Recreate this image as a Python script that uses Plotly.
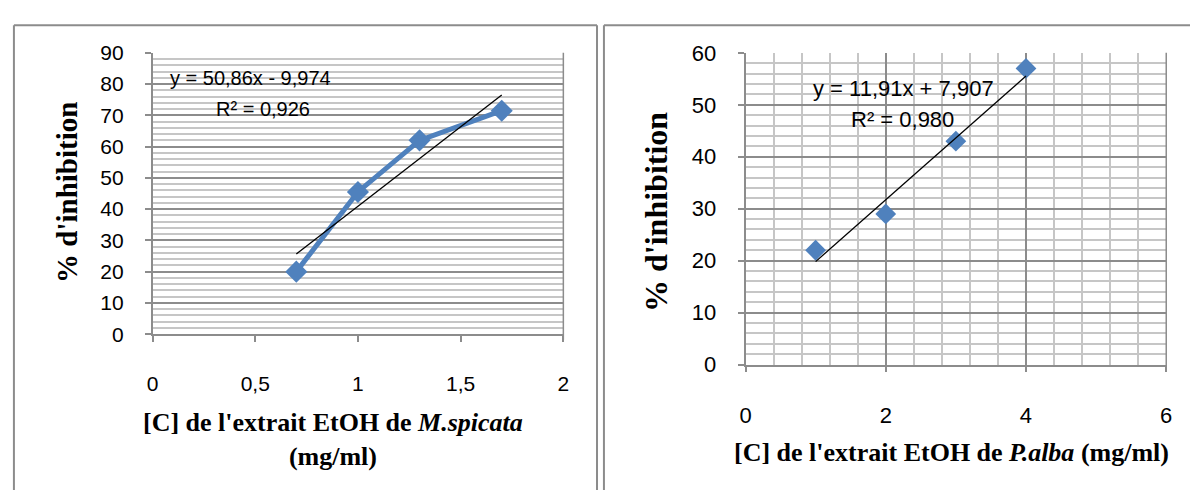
import plotly.graph_objects as go

# ---- data ----
ms_conc = [0.7, 1.0, 1.3, 1.7]
ms_inhib = [20.0, 45.5, 62.0, 71.5]
ms_slope, ms_intercept = 50.86, -9.974
ms_eq = "y = 50,86x - 9,974"
ms_r2 = "R² = 0,926"

pa_conc = [1, 2, 3, 4]
pa_inhib = [22.0, 29.0, 43.0, 57.0]
pa_slope, pa_intercept = 11.91, 7.907
pa_eq = "y = 11,91x + 7,907"
pa_r2 = "R² = 0,980"

left_xticks = [0, 0.5, 1, 1.5, 2]
left_xticklabels = ["0", "0,5", "1", "1,5", "2"]

W, H = 1196, 503
BLUE = "#4F81BD"
MAJOR = "#8C8C8C"
MINOR = "#C6C6C6"
SANS = "Liberation Sans, Arial, sans-serif"
SERIF = "Liberation Serif, Times New Roman, serif"


def px(x):
    return x / W


def py(y):
    return 1 - y / H


fig = go.Figure()

# Left chart
fig.add_trace(go.Scatter(
    x=ms_conc, y=ms_inhib, mode="lines+markers",
    line=dict(color=BLUE, width=5),
    marker=dict(symbol="diamond", size=17, color=BLUE),
    xaxis="x", yaxis="y", showlegend=False))
ms_tx = [min(ms_conc), max(ms_conc)]
fig.add_trace(go.Scatter(
    x=ms_tx, y=[ms_slope * v + ms_intercept for v in ms_tx], mode="lines",
    line=dict(color="#000000", width=1.3), xaxis="x", yaxis="y", showlegend=False))

# Right chart
pa_tx = [min(pa_conc), max(pa_conc)]
fig.add_trace(go.Scatter(
    x=pa_conc, y=pa_inhib, mode="markers",
    marker=dict(symbol="diamond", size=16, color=BLUE),
    xaxis="x2", yaxis="y2", showlegend=False))
fig.add_trace(go.Scatter(
    x=pa_tx, y=[pa_slope * v + pa_intercept for v in pa_tx], mode="lines",
    line=dict(color="#000000", width=1.3), xaxis="x2", yaxis="y2", showlegend=False))


def axis_common(size):
    return dict(
        showline=True, linecolor=MAJOR, linewidth=1.5, zeroline=False,
        ticks="outside", ticklen=6, tickcolor=MAJOR, tickwidth=1.5,
        tickfont=dict(family=SANS, size=size, color="#000000"), fixedrange=True)


fig.update_layout(
    width=W, height=H,
    margin=dict(l=0, r=0, t=0, b=0),
    paper_bgcolor="white", plot_bgcolor="white",
    xaxis=dict(domain=[px(148), px(563)], range=[0, 2], anchor="y",
               tickvals=left_xticks, ticktext=left_xticklabels,
               showgrid=False, ticklabelstandoff=24, **axis_common(21)),
    yaxis=dict(domain=[py(339), py(43)], range=[0, 90], anchor="x",
               dtick=10, showgrid=True, gridcolor=MAJOR, gridwidth=1.5,
               minor=dict(dtick=2, showgrid=True, gridcolor=MINOR, gridwidth=1.5),
               ticklabelstandoff=17, **axis_common(21)),
    xaxis2=dict(domain=[px(747), px(1172)], range=[0, 6], anchor="y2",
                dtick=2, showgrid=True, gridcolor=MAJOR, gridwidth=1.5,
                minor=dict(dtick=0.4, showgrid=True, gridcolor=MINOR, gridwidth=1.5),
                ticklabelstandoff=24, **axis_common(22)),
    yaxis2=dict(domain=[py(371), py(43)], range=[0, 60], anchor="x2",
                dtick=10, showgrid=True, gridcolor=MAJOR, gridwidth=1.5,
                minor=dict(dtick=2, showgrid=True, gridcolor=MINOR, gridwidth=1.5),
                ticklabelstandoff=17, **axis_common(22)),
)

# right edges of plot areas (grid boundary)
fig.add_shape(type="line", xref="paper", yref="paper",
              x0=px(563), x1=px(563), y0=py(345), y1=py(43),
              line=dict(color=MAJOR, width=1.5))
fig.add_shape(type="line", xref="paper", yref="paper",
              x0=px(1172), x1=px(1172), y0=py(377), y1=py(43),
              line=dict(color=MAJOR, width=1.5))

# chart borders
BORDER = dict(color="#8C8C8C", width=2)
for (x0, y0, x1, y1) in [(8, 14, 8, 503), (8, 14, 597, 14), (597, 14, 597, 503),
                         (604, 14, 604, 503), (604, 14, 1196, 14)]:
    fig.add_shape(type="line", xref="paper", yref="paper",
                  x0=px(x0), y0=py(y0), x1=px(x1), y1=py(y1), line=BORDER)

annotations = [
    dict(x=px(247), y=py(69), text=ms_eq, font=dict(family=SANS, size=20, color="#000")),
    dict(x=px(260), y=py(102), text=ms_r2, font=dict(family=SANS, size=20, color="#000")),
    dict(x=px(907), y=py(80), text=pa_eq, font=dict(family=SANS, size=22, color="#000")),
    dict(x=px(906), y=py(113), text=pa_r2, font=dict(family=SANS, size=22, color="#000")),
    dict(x=px(61), y=py(190), text="<b>% d'inhibition</b>", textangle=-90,
         font=dict(family=SERIF, size=29, color="#000")),
    dict(x=px(656), y=py(210), text="<b>% d'inhibition</b>", textangle=-90,
         font=dict(family=SERIF, size=32, color="#000")),
    dict(x=px(330), y=py(450),
         text="<b>[C] de l'extrait EtOH de <i>M.spicata</i></b><br><b>(mg/ml)</b>",
         font=dict(family=SERIF, size=26, color="#000")),
    dict(x=px(955), y=py(464), text="<b>[C] de l'extrait EtOH de <i>P.alba</i> (mg/ml)</b>",
         font=dict(family=SERIF, size=26, color="#000")),
]
for a in annotations:
    a.update(xref="paper", yref="paper", showarrow=False, xanchor="center", yanchor="middle")
fig.update_layout(annotations=annotations)

page_css = ("document.documentElement.style.margin='0';"
            "document.body.style.margin='0';"
            "document.body.style.overflow='hidden';"
            "document.documentElement.style.overflow='hidden';")
fig.write_html("out.html", post_script=page_css, config={"displayModeBar": False})
